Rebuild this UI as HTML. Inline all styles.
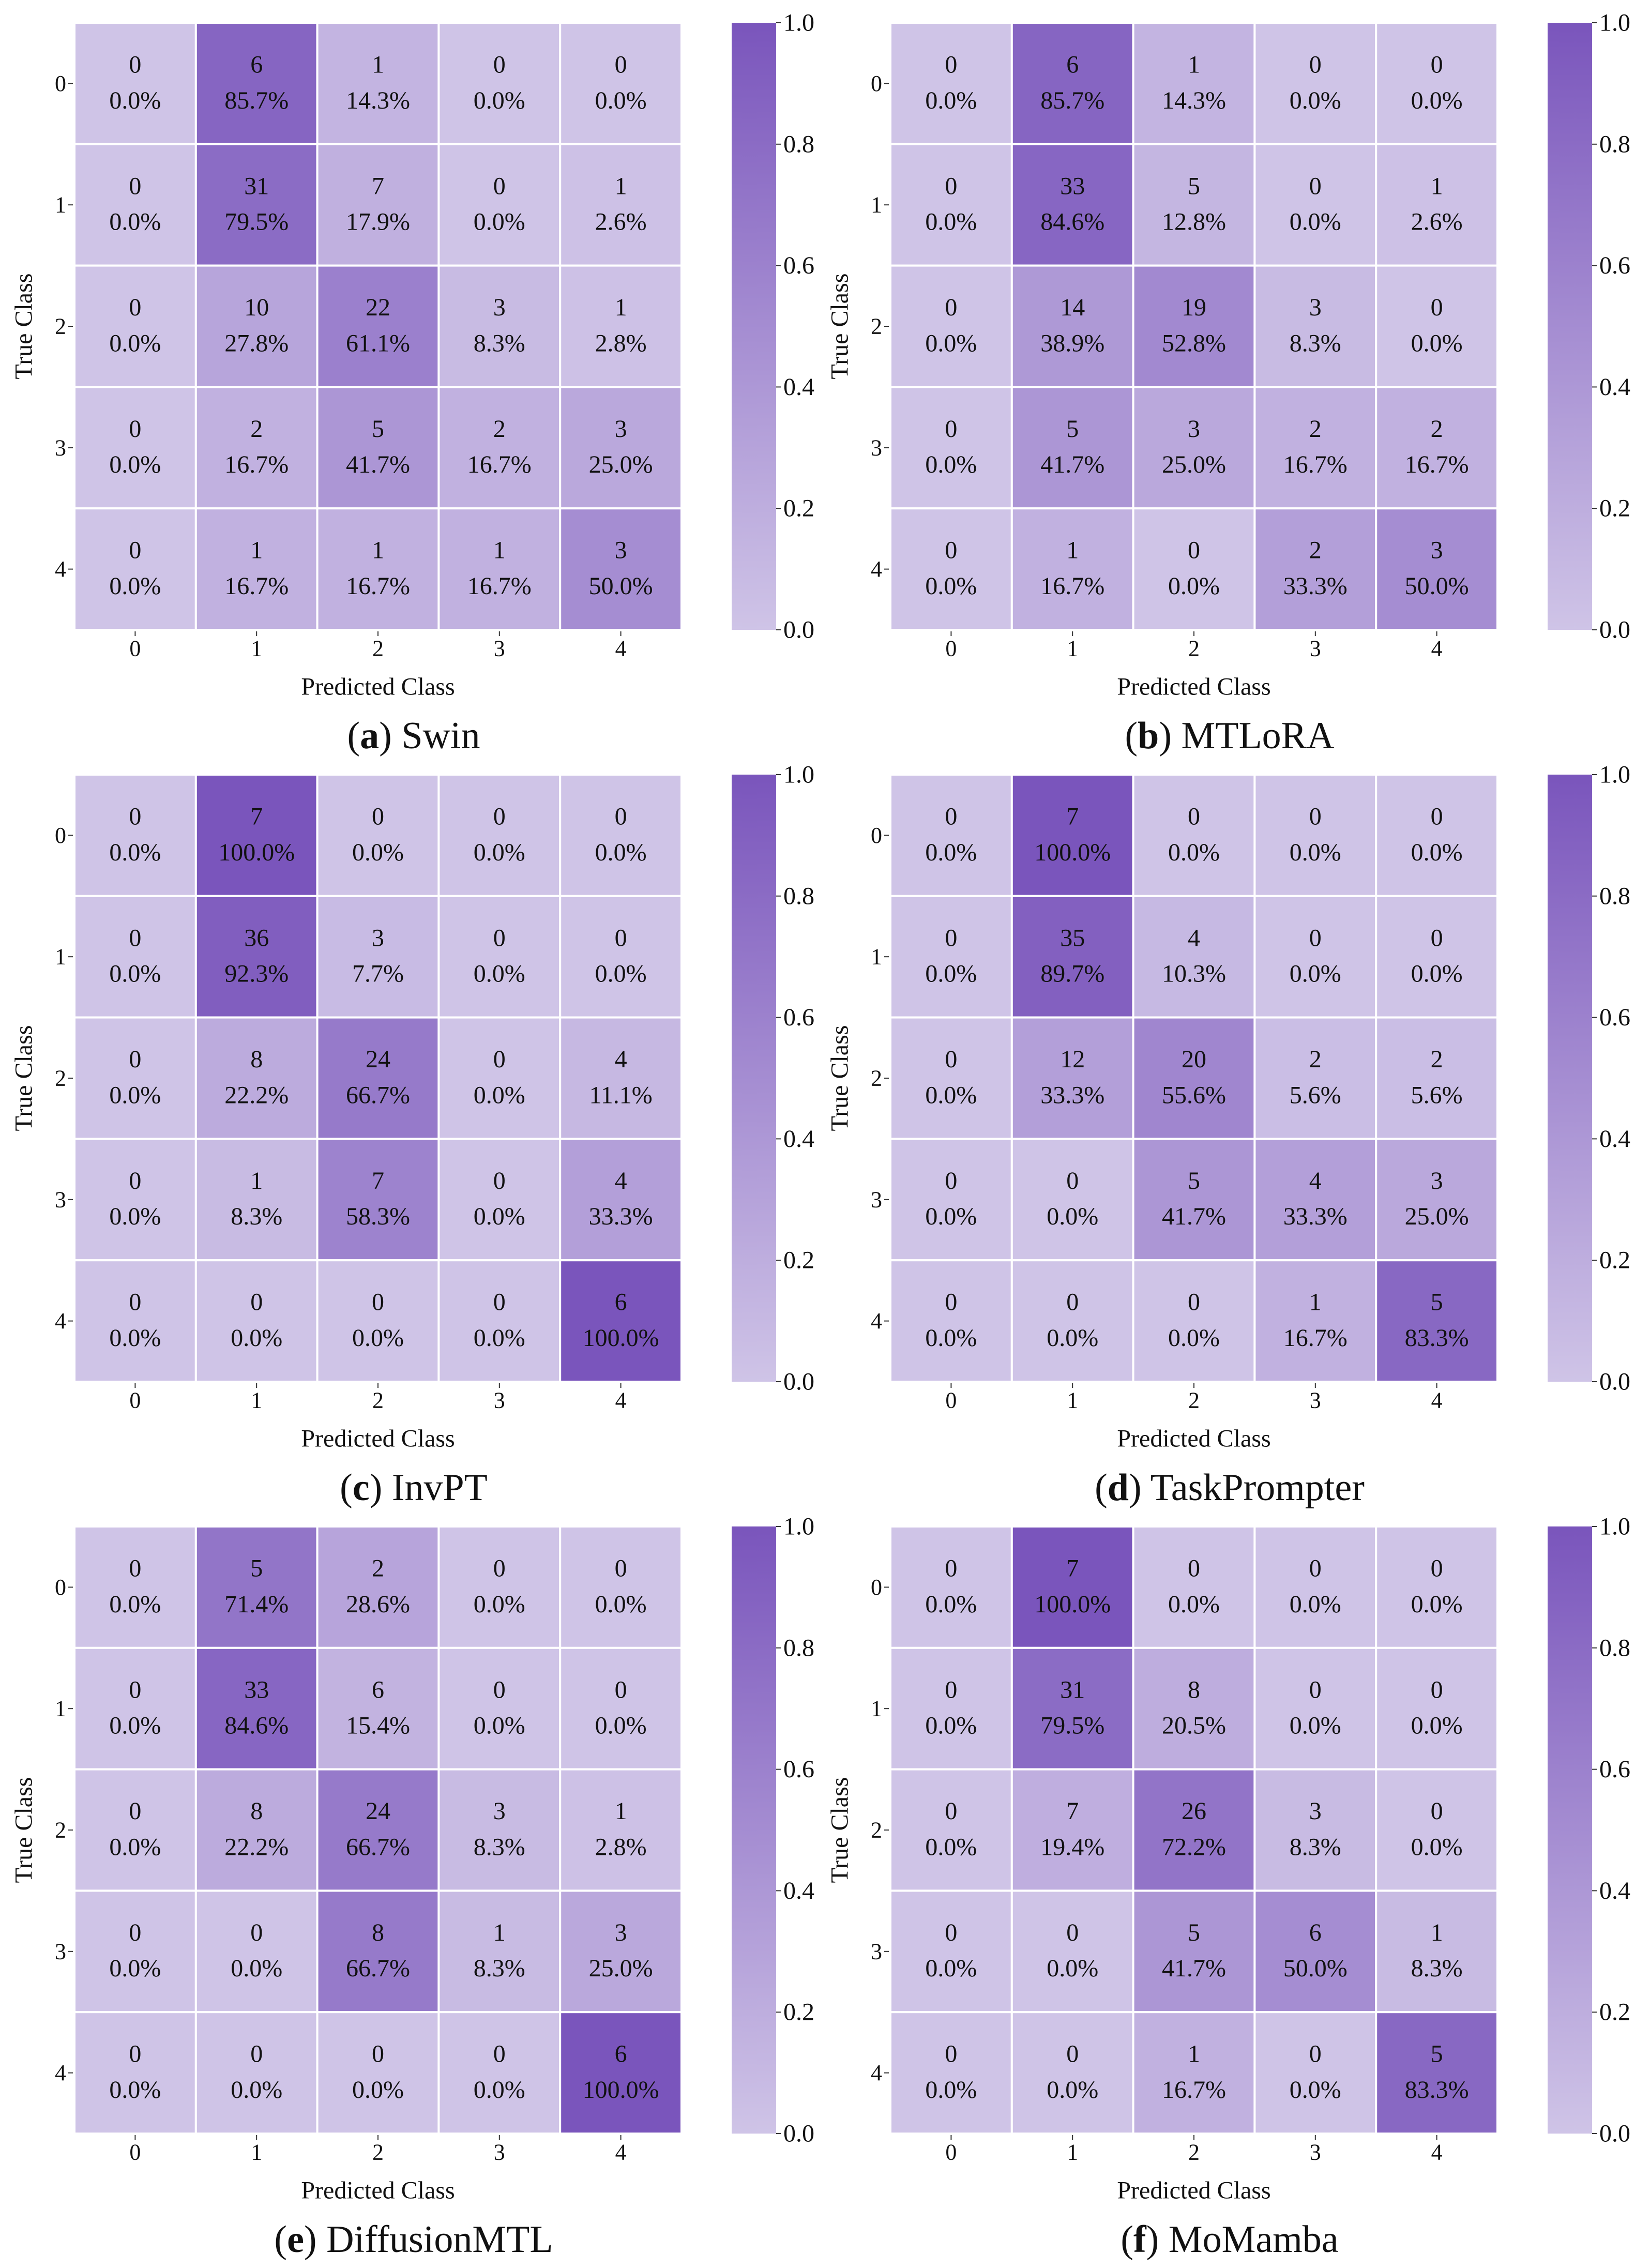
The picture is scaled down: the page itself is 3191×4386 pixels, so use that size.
<!DOCTYPE html>
<html><head><meta charset="utf-8"><title>Confusion matrices</title>
<style>
html,body{margin:0;padding:0;background:#fff;}
svg{display:block;}
svg text{font-family:"Liberation Serif","DejaVu Serif",serif;fill:#111;}
</style></head>
<body>
<svg id="fig" width="3191" height="4386" viewBox="0 0 3191 4386" xmlns="http://www.w3.org/2000/svg" font-family="Liberation Serif, DejaVu Serif, serif">
<defs>
<linearGradient id="cbar" x1="0" y1="1" x2="0" y2="0">
<stop offset="0" stop-color="#cfc4e7"/><stop offset="1" stop-color="#7a55bc"/>
</linearGradient>
</defs>
</svg>
<script>
const panelLetters = ["a","b","c","d","e","f"];
const panelNames = ["Swin","MTLoRA","InvPT","TaskPrompter","DiffusionMTL","MoMamba"];
const classLabels = ["0","1","2","3","4"];
const colorbarTicks = [0,0.2,0.4,0.6,0.8,1.0];
const countsA = [[0,6,1,0,0],[0,31,7,0,1],[0,10,22,3,1],[0,2,5,2,3],[0,1,1,1,3]];
const pctA = [[0,85.7,14.3,0,0],[0,79.5,17.9,0,2.6],[0,27.8,61.1,8.3,2.8],[0,16.7,41.7,16.7,25.0],[0,16.7,16.7,16.7,50.0]];
const countsB = [[0,6,1,0,0],[0,33,5,0,1],[0,14,19,3,0],[0,5,3,2,2],[0,1,0,2,3]];
const pctB = [[0,85.7,14.3,0,0],[0,84.6,12.8,0,2.6],[0,38.9,52.8,8.3,0],[0,41.7,25.0,16.7,16.7],[0,16.7,0,33.3,50.0]];
const countsC = [[0,7,0,0,0],[0,36,3,0,0],[0,8,24,0,4],[0,1,7,0,4],[0,0,0,0,6]];
const pctC = [[0,100,0,0,0],[0,92.3,7.7,0,0],[0,22.2,66.7,0,11.1],[0,8.3,58.3,0,33.3],[0,0,0,0,100]];
const countsD = [[0,7,0,0,0],[0,35,4,0,0],[0,12,20,2,2],[0,0,5,4,3],[0,0,0,1,5]];
const pctD = [[0,100,0,0,0],[0,89.7,10.3,0,0],[0,33.3,55.6,5.6,5.6],[0,0,41.7,33.3,25.0],[0,0,0,16.7,83.3]];
const countsE = [[0,5,2,0,0],[0,33,6,0,0],[0,8,24,3,1],[0,0,8,1,3],[0,0,0,0,6]];
const pctE = [[0,71.4,28.6,0,0],[0,84.6,15.4,0,0],[0,22.2,66.7,8.3,2.8],[0,0,66.7,8.3,25.0],[0,0,0,0,100]];
const countsF = [[0,7,0,0,0],[0,31,8,0,0],[0,7,26,3,0],[0,0,5,6,1],[0,0,1,0,5]];
const pctF = [[0,100,0,0,0],[0,79.5,20.5,0,0],[0,19.4,72.2,8.3,0],[0,0,41.7,50.0,8.3],[0,0,16.7,0,83.3]];

const allCounts=[countsA,countsB,countsC,countsD,countsE,countsF];
const allPct=[pctA,pctB,pctC,pctD,pctE,pctF];

const NS="http://www.w3.org/2000/svg";
const svg=document.getElementById('fig');
const FONT='Liberation Serif, DejaVu Serif, serif';
function mk(tag,attrs,parent){const e=document.createElementNS(NS,tag);for(const k in attrs)e.setAttribute(k,attrs[k]);if(tag==='text')e.setAttribute('font-family',FONT);(parent||svg).appendChild(e);return e;}
function color(v){const a=[207,196,231],b=[122,85,188];return 'rgb('+a.map((c,i)=>Math.round(c+(b[i]-c)*v)).join(',')+')';}

const HM_X=144, HM_Y=44, HM_W=1174, HM_H=1174, DX=1578, DY=1454;
const CB_X=1415, CB_W=86;
const cw=HM_W/5, ch=HM_H/5;

panelNames.forEach((name,p)=>{
  const ox=(p%2)*DX, oy=Math.floor(p/2)*DY;
  const g=mk('g',{});
  
  
  const x0=HM_X+ox, y0=HM_Y+oy;
  const xs=i=>x0+i*cw, ys=j=>y0+j*ch;
  const counts=allCounts[p], pct=allPct[p];
  for(let r=0;r<5;r++)for(let c=0;c<5;c++){
    const cell=mk('rect',{x:xs(c),y:ys(r),width:cw,height:ch,fill:color(pct[r][c]/100),stroke:'#fff','stroke-width':4},g);
    
    
    const t1=mk('text',{x:xs(c)+cw/2,y:ys(r)+ch*0.345,'font-size':48,'text-anchor':'middle','dominant-baseline':'central'},g);
    t1.textContent=counts[r][c];
    
    
    const t2=mk('text',{x:xs(c)+cw/2,y:ys(r)+ch*0.64,'font-size':48,'text-anchor':'middle','dominant-baseline':'central'},g);
    t2.textContent=pct[r][c].toFixed(1)+'%';
    
    
  }
  classLabels.forEach((lab,i)=>{
    mk('line',{x1:xs(i)+cw/2,x2:xs(i)+cw/2,y1:y0+HM_H+3,y2:y0+HM_H+12,stroke:'#333','stroke-width':2},g);
    const tx=mk('text',{x:xs(i)+cw/2,y:y0+HM_H+36,'font-size':44,'text-anchor':'middle','dominant-baseline':'central'},g);
    tx.textContent=lab;
    
    
    mk('line',{x1:x0-12,x2:x0-3,y1:ys(i)+ch/2,y2:ys(i)+ch/2,stroke:'#333','stroke-width':2},g);
    const ty=mk('text',{x:x0-16,y:ys(i)+ch/2,'font-size':44,'text-anchor':'end','dominant-baseline':'central'},g);
    ty.textContent=lab;
    
    
  });
  const xl=mk('text',{x:x0+HM_W/2,y:y0+HM_H+110,'font-size':48,'text-anchor':'middle','dominant-baseline':'central'},g);
  xl.textContent='Predicted Class';
  
  
  const yl=mk('text',{x:46+ox,y:y0+HM_H/2,'font-size':48,'text-anchor':'middle','dominant-baseline':'central',transform:'rotate(-90 '+(46+ox)+' '+(y0+HM_H/2)+')'},g);
  yl.textContent='True Class';
  
  
  const cbx=CB_X+ox;
  const cb=mk('rect',{x:cbx,y:y0,width:CB_W,height:HM_H,fill:'url(#cbar)'},g);
  
  
  colorbarTicks.forEach(v=>{
    const yy=y0+HM_H*(1-v);
    mk('line',{x1:cbx+CB_W,x2:cbx+CB_W+9,y1:yy,y2:yy,stroke:'#333','stroke-width':2},g);
    const t=mk('text',{x:cbx+CB_W+14,y:yy,'font-size':48,'dominant-baseline':'central'},g);
    t.textContent=v.toFixed(1);
    
    
  });
  const cap=mk('text',{x:x0+656,y:y0+HM_H+205,'font-size':74,'text-anchor':'middle','dominant-baseline':'central'},g);
  
  
  const s1=mk('tspan',{},cap); s1.textContent='(';
  const s2=mk('tspan',{'font-weight':'bold'},cap); s2.textContent=panelLetters[p];
  const s3=mk('tspan',{},cap); s3.textContent=') '+name;
});
</script>
</body></html>
